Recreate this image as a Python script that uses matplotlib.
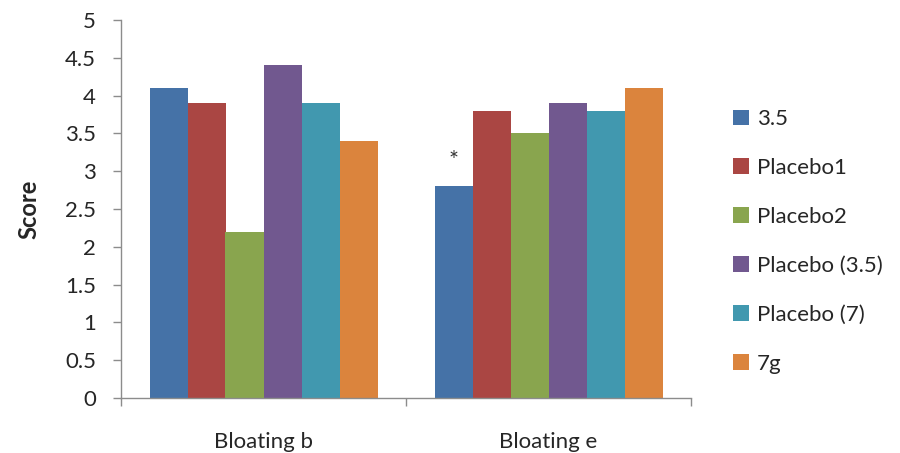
import matplotlib.pyplot as plt
import numpy as np

plt.rcParams['font.family'] = ['Lato', 'DejaVu Sans']

categories = ["Bloating b", "Bloating e"]
series_names = ["3.5", "Placebo1", "Placebo2", "Placebo (3.5)", "Placebo (7)", "7g"]
values = {
    "3.5":           [4.1, 2.8],
    "Placebo1":      [3.9, 3.8],
    "Placebo2":      [2.2, 3.5],
    "Placebo (3.5)": [4.4, 3.9],
    "Placebo (7)":   [3.9, 3.8],
    "7g":            [3.4, 4.1],
}
colors = ["#4572A7", "#AA4643", "#89A54E", "#71588F", "#4198AF", "#DB843D"]
y_ticks = [0, 0.5, 1, 1.5, 2, 2.5, 3, 3.5, 4, 4.5, 5]
y_tick_labels = ["0", "0.5", "1", "1.5", "2", "2.5", "3", "3.5", "4", "4.5", "5"]

text_color = '#262626'
fs = 16

fig = plt.figure(figsize=(9, 4.53), dpi=100)
ax = fig.add_axes([121 / 900, 1 - 398 / 453, 570 / 900, 378 / 453])

centers = np.arange(len(categories)) + 0.5
n = len(series_names)
group_width = 0.8
bw = group_width / n
for i, name in enumerate(series_names):
    x = centers - group_width / 2 + bw * (i + 0.5)
    ax.bar(x, values[name], width=bw, color=colors[i], label=name,
           edgecolor='none', zorder=2)

# significance marker above the first series in the second group
star_x = centers[1] - group_width / 2 + bw * 0.5
ax.text(star_x, values["3.5"][1] + 0.34, "*", ha='center', va='center',
        fontsize=17, color='#333333')

ax.set_xlim(0, len(categories))
ax.set_ylim(0, 5)

axis_color = '#8c8c8c'
for side in ['top', 'right']:
    ax.spines[side].set_visible(False)
for side in ['left', 'bottom']:
    ax.spines[side].set_color(axis_color)
    ax.spines[side].set_linewidth(1.0)

ax.set_yticks(y_ticks)
ax.set_yticklabels(y_tick_labels, fontsize=fs, color=text_color)
ax.tick_params(axis='y', length=6, width=1.0, color=axis_color, pad=12, direction='out')

# category boundaries carry the x tick marks; names sit at the centres
ax.set_xticks(np.arange(len(categories) + 1))
ax.set_xticklabels([""] * (len(categories) + 1))
ax.tick_params(axis='x', length=6, width=1.0, color=axis_color, direction='out')
for c, lab in zip(centers, categories):
    ax.text(c, -0.58, lab, ha='center', va='center', fontsize=fs,
            color=text_color, transform=ax.transData, clip_on=False)

ax.set_ylabel("Score", fontsize=17, fontweight='bold', labelpad=18, color=text_color)

leg = ax.legend(loc='upper left', bbox_to_anchor=(1.074, 0.764), frameon=False,
                fontsize=fs, handlelength=0.72, handleheight=0.72,
                handletextpad=0.36, labelspacing=1.3, borderaxespad=0,
                borderpad=0)
for t in leg.get_texts():
    t.set_color(text_color)

fig.savefig("out.png", dpi=100)
